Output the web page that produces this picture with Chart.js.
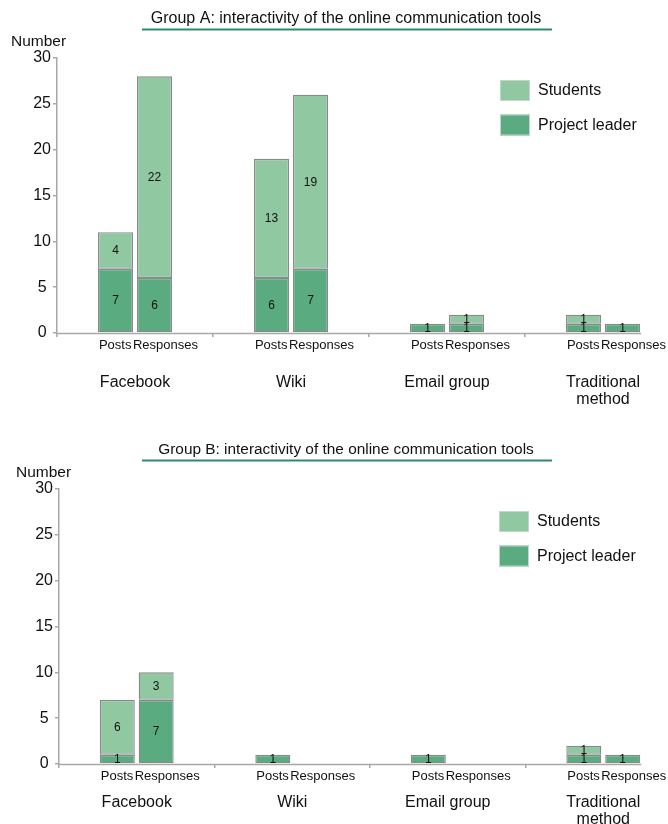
<!DOCTYPE html>
<html><head><meta charset="utf-8">
<script src="https://cdn.jsdelivr.net/npm/chart.js@4"></script>
<style>
html,body{margin:0;padding:0;background:#fff;overflow:hidden;width:668px;height:824px}
.wrap{position:absolute;left:0;width:700px;}
canvas{display:block}
</style></head><body>
<div class="wrap" style="top:0"><canvas id="cA" width="700" height="420" style="width:700px;height:420px"></canvas></div>
<div class="wrap" style="top:431px"><canvas id="cB" width="700" height="393" style="width:700px;height:393px"></canvas></div>
<script>
// ---------- data ----------
const tools = ['Facebook', 'Wiki', 'Email group', ['Traditional', 'method']];
const barKinds = ['Posts', 'Responses'];
const seriesNames = ['Students', 'Project leader'];
const yMin = 0, yMax = 30, yStep = 5;

const titleA = 'Group A: interactivity of the online communication tools';
const groupA_postsLeader   = [7, 6, 1, 1];
const groupA_postsStudents = [4, 13, 0, 1];
const groupA_respLeader    = [6, 7, 1, 1];
const groupA_respStudents  = [22, 19, 1, 0];

const titleB = 'Group B: interactivity of the online communication tools';
const groupB_postsLeader   = [1, 1, 1, 1];
const groupB_postsStudents = [6, 0, 0, 1];
const groupB_respLeader    = [7, 0, 0, 1];
const groupB_respStudents  = [3, 0, 0, 0];

// ---------- styles ----------
const FONT = '"Liberation Sans", Arial, Helvetica, sans-serif';
const colStudents = '#8fc8a1';
const colLeader = '#5aab80';
const colBorder = '#8a8a8a';
const colAxis = '#a8a8a8';
const colTitleLine = '#2e8b6f';

const nz = a => a.map(v => (v ? v : null));

const decor = {
  id: 'decor',
  beforeDatasetsDraw(chart) {
    const ctx = chart.ctx, ca = chart.chartArea;
    // baseline up to last bar
    let right = ca.left;
    chart.data.datasets.forEach((ds, i) => {
      chart.getDatasetMeta(i).data.forEach((b) => {
        if (isFinite(b.x) && isFinite(b.width)) right = Math.max(right, b.x + b.width / 2);
      });
    });
    ctx.save();
    ctx.strokeStyle = colAxis;
    ctx.lineWidth = 1.5;
    ctx.beginPath();
    ctx.moveTo(ca.left, ca.bottom + 0.5);
    ctx.lineTo(right + 1, ca.bottom + 0.5);
    ctx.stroke();
    ctx.restore();
  },
  afterDatasetsDraw(chart) {
    const o = chart.options.plugins.decor;
    const ctx = chart.ctx, ca = chart.chartArea;
    ctx.save();
    // value labels
    ctx.font = '12px ' + FONT;
    ctx.fillStyle = '#111';
    ctx.textAlign = 'center';
    ctx.textBaseline = 'middle';
    chart.data.datasets.forEach((ds, i) => {
      chart.getDatasetMeta(i).data.forEach((bar, j) => {
        const v = ds.data[j];
        if (!v) return;
        ctx.fillText(String(v), bar.x, (bar.y + bar.base) / 2 + 0.5);
      });
    });
    // Posts / Responses labels under each bar
    ctx.font = '13px ' + FONT;
    ctx.textAlign = 'left';
    ctx.fillStyle = '#111';
    const mPosts = chart.getDatasetMeta(0).data;
    const mResp = chart.getDatasetMeta(2).data;
    mPosts.forEach((bp, j) => {
      const br = mResp[j];
      ctx.fillText(barKinds[0], bp.x - bp.width / 2 + 1, ca.bottom + 12.5);
      ctx.fillText(barKinds[1], br.x - br.width / 2 - 4, ca.bottom + 12.5);
    });
    // legend
    ctx.font = '16px ' + FONT;
    ctx.textAlign = 'left';
    ctx.textBaseline = 'middle';
    const entries = [[seriesNames[0], colStudents], [seriesNames[1], colLeader]];
    entries.forEach((e, k) => {
      const top = ca.top + 22 + k * 34.5;
      ctx.fillStyle = e[1];
      ctx.fillRect(o.legendX, top, 30, 21);
      ctx.strokeStyle = '#c4d6c9';
      ctx.lineWidth = 1;
      ctx.strokeRect(o.legendX + 0.5, top + 0.5, 29, 20);
      ctx.fillStyle = '#111';
      ctx.fillText(e[0], o.legendX + 38, top + 11);
    });
    // title + underline
    ctx.font = o.titleSize + 'px ' + FONT;
    ctx.textAlign = 'center';
    ctx.fillStyle = '#111';
    ctx.fillText(o.title, 346, ca.top - 39);
    ctx.strokeStyle = colTitleLine;
    ctx.lineWidth = 2;
    ctx.beginPath();
    ctx.moveTo(142, ca.top - 28.5);
    ctx.lineTo(552, ca.top - 28.5);
    ctx.stroke();
    // y axis caption
    ctx.font = '15.5px ' + FONT;
    ctx.fillText('Number', o.numberX, ca.top - 16.5);
    ctx.restore();
  }
};

function makeChart(id, title, titleSize, pL, pS, rL, rS, opts) {
  const datasets = [
    { label: seriesNames[1], data: nz(pL), stack: barKinds[0], backgroundColor: colLeader },
    { label: seriesNames[0], data: nz(pS), stack: barKinds[0], backgroundColor: colStudents },
    { label: seriesNames[1], data: nz(rL), stack: barKinds[1], backgroundColor: colLeader },
    { label: seriesNames[0], data: nz(rS), stack: barKinds[1], backgroundColor: colStudents }
  ].map(d => Object.assign(d, {
    borderColor: colBorder, borderWidth: 1.3, borderSkipped: false,
    categoryPercentage: 0.5, barPercentage: 0.9
  }));
  return new Chart(document.getElementById(id), {
    type: 'bar',
    data: { labels: tools, datasets },
    options: {
      responsive: false,
      animation: false,
      devicePixelRatio: 1,
      layout: { padding: { top: 58, left: 0, right: 19, bottom: 0 } },
      plugins: {
        legend: { display: false },
        tooltip: { enabled: false },
        decor: { title, titleSize, legendX: opts.legendX, numberX: opts.numberX }
      },
      scales: {
        x: {
          stacked: true,
          afterFit: s => { s.height = opts.xHeight; },
          border: { display: false },
          grid: { offset: true, drawOnChartArea: false, tickLength: 4, color: colAxis, lineWidth: 1.5 },
          ticks: {
            color: '#111', padding: opts.catPad,
            font: { family: FONT, size: 16, lineHeight: 1.05 },
            maxRotation: 0, autoSkip: false
          }
        },
        y: {
          stacked: true, min: yMin, max: yMax,
          afterFit: s => { s.width = opts.yWidth; },
          border: { display: true, color: colAxis, width: 1.5 },
          grid: { drawOnChartArea: false, tickLength: 4, color: colAxis, lineWidth: 1.5 },
          ticks: {
            stepSize: yStep, color: '#111', padding: 2, crossAlign: 'center',
            font: { family: FONT, size: 16 }
          }
        }
      }
    },
    plugins: [decor]
  });
}

makeChart('cA', titleA, 16, groupA_postsLeader, groupA_postsStudents, groupA_respLeader, groupA_respStudents,
  { xHeight: 87, catPad: 37.2, yWidth: 57, legendX: 500, numberX: 38.5 });
makeChart('cB', titleB, 15.4, groupB_postsLeader, groupB_postsStudents, groupB_respLeader, groupB_respStudents,
  { xHeight: 60, catPad: 26, yWidth: 59, legendX: 499, numberX: 43.5 });
</script>
</body></html>
